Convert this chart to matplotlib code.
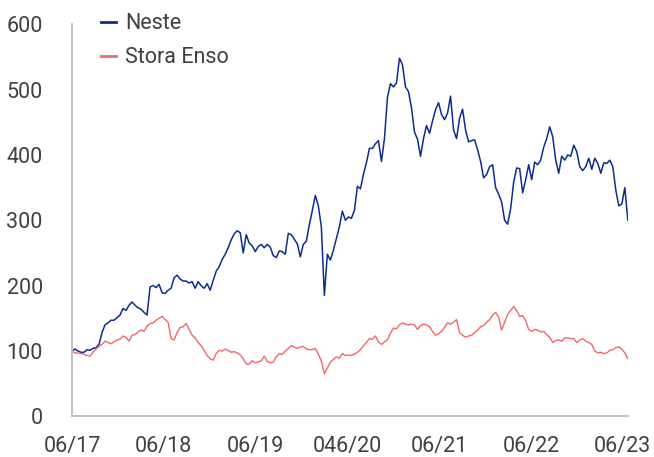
import matplotlib
matplotlib.use("Agg")
import matplotlib.pyplot as plt
import pandas as pd

# values (indexed, start = 100)
neste = [100, 103, 100, 98, 98, 102, 101, 104, 105, 110, 128, 140, 143, 147, 147, 151, 155, 165, 162, 170,
         175, 170, 166, 164, 159, 155, 198, 200, 197, 202, 189, 188, 193, 196, 212, 216, 210, 207, 207, 204,
         206, 196, 206, 200, 196, 203, 193, 208, 222, 229, 240, 248, 258, 270, 279, 284, 281, 250, 278, 265,
         261, 252, 260, 263, 258, 263, 259, 246, 243, 253, 252, 248, 280, 278, 271, 264, 244, 263, 268, 293,
         315, 338, 322, 290, 185, 248, 239, 254, 272, 290, 314, 300, 305, 303, 315, 352, 348, 370, 388, 410,
         410, 417, 422, 390, 425, 488, 509, 504, 510, 548, 538, 504, 497, 472, 435, 424, 398, 425, 445, 433,
         452, 469, 480, 462, 454, 464, 490, 438, 425, 456, 470, 438, 420, 422, 423, 408, 390, 365, 370, 382,
         385, 350, 340, 328, 300, 294, 318, 358, 380, 379, 342, 362, 385, 362, 389, 385, 392, 412, 425, 443,
         428, 392, 372, 398, 392, 400, 398, 415, 405, 382, 376, 382, 395, 378, 395, 387, 372, 388, 387, 392,
         382, 346, 322, 325, 350, 300]
stora_enso = [100, 97, 97, 96, 95, 93, 92, 98, 103, 107, 110, 115, 113, 111, 114, 117, 118, 123, 121, 115,
              124, 125, 129, 132, 130, 138, 142, 143, 147, 150, 153, 148, 144, 119, 117, 128, 136, 137, 142, 133,
              124, 120, 113, 108, 101, 93, 88, 86, 96, 101, 100, 103, 101, 98, 99, 97, 94, 88, 80, 80,
              85, 82, 83, 85, 92, 84, 82, 83, 91, 96, 95, 100, 104, 108, 106, 104, 106, 107, 103, 102,
              102, 104, 95, 85, 65, 74, 83, 87, 91, 89, 96, 93, 94, 93, 95, 98, 102, 108, 113, 119,
              118, 123, 114, 110, 114, 117, 127, 135, 134, 140, 143, 141, 140, 141, 140, 133, 139, 141, 140, 137,
              130, 124, 126, 130, 136, 143, 141, 144, 148, 128, 124, 121, 123, 124, 128, 132, 137, 139, 144, 148,
              155, 159, 152, 132, 144, 156, 162, 168, 162, 153, 154, 146, 133, 130, 133, 132, 129, 130, 125, 121,
              113, 116, 117, 115, 120, 120, 119, 119, 113, 117, 119, 115, 113, 110, 100, 97, 98, 96, 97, 101,
              102, 105, 106, 103, 97, 88]
tick_labels = ["06/17", "06/18", "06/19", "046/20", "06/21", "06/22", "06/23"]

dates = pd.date_range("2017-06-15", "2023-07-05", periods=len(neste))
tick_dates = pd.to_datetime([f"{y}-06-15" for y in range(2017, 2024)])

plt.rcParams["font.family"] = ["Roboto", "DejaVu Sans"]
text_color = "#404040"
spine_color = "#bfbfbf"

fig = plt.figure(figsize=(6.54, 4.57), dpi=100)
ax = fig.add_axes([0.110, 0.089, 0.850, 0.858])

ax.plot(dates, neste, color="#0b2e8f", lw=1.1, label="Neste")
ax.plot(dates, stora_enso, color="#f26868", lw=1.0, label="Stora Enso")

ax.set_xlim(dates[0], dates[-1])
ax.set_ylim(0, 600)
ax.set_yticks(range(0, 601, 100))
ax.set_xticks(tick_dates)
ax.set_xticklabels(tick_labels)

ax.tick_params(axis="both", length=0, labelsize=15.5, labelcolor=text_color)
ax.tick_params(axis="y", pad=21)
ax.tick_params(axis="x", pad=14)

for side in ["top", "right"]:
    ax.spines[side].set_visible(False)
for side in ["left", "bottom"]:
    ax.spines[side].set_color(spine_color)
    ax.spines[side].set_linewidth(1.3)

leg = ax.legend(loc="upper left", bbox_to_anchor=(0.036, 1.05), frameon=False,
                fontsize=15.5, handlelength=0.7, handletextpad=0.45, labelspacing=0.6,
                borderaxespad=0)
for t in leg.get_texts():
    t.set_color(text_color)
for h in leg.get_lines():
    h.set_linewidth(2.0)

fig.savefig("out.png", dpi=100)
